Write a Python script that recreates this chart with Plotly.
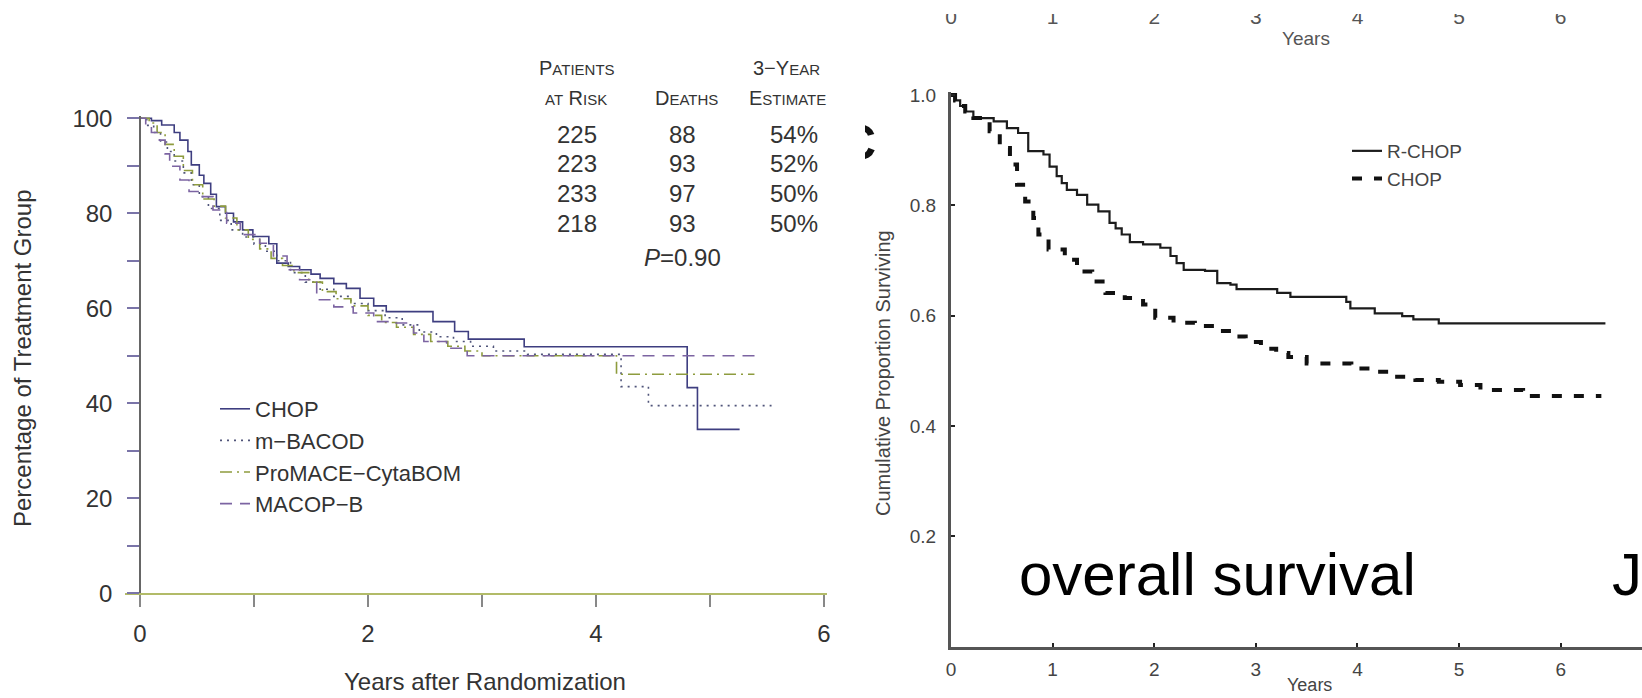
import plotly.graph_objects as go

W, H = 1642, 698
FONT = "Liberation Sans, Arial, Helvetica, sans-serif"


def px(x):
    return x / W


def py(y):
    return 1 - y / H


# ---------------- Left panel data (percent surviving by years) ----------------
chop_t = [0, 0.10, 0.19, 0.30, 0.35, 0.42, 0.45, 0.52, 0.56, 0.62, 0.67, 0.75, 0.82, 0.90, 0.99,
          1.13, 1.20, 1.30, 1.40, 1.50, 1.58, 1.70, 1.81, 1.93, 2.05, 2.16, 2.57, 2.76, 2.88,
          3.37, 4.80, 4.89, 5.26]
chop_s = [100, 99.5, 98.6, 97.0, 95.4, 93.0, 90.2, 88.0, 86.3, 84.0, 81.4, 80.0, 78.2, 76.5, 75.1,
          73.6, 69.5, 68.8, 68.1, 67.2, 66.3, 65.2, 64.2, 62.1, 60.5, 59.3, 57.2, 55.1, 53.5,
          51.9, 43.3, 34.5, 34.5]

mbacod_t = [0, 0.06, 0.12, 0.18, 0.24, 0.30, 0.38, 0.45, 0.52, 0.60, 0.70, 0.80, 0.90, 1.00,
            1.10, 1.20, 1.32, 1.45, 1.58, 1.70, 1.85, 2.00, 2.15, 2.30, 2.45, 2.60, 2.75, 2.90,
            3.10, 3.40, 4.22, 4.46, 5.54]
mbacod_s = [100, 98.5, 97.0, 95.0, 93.0, 91.0, 88.5, 86.0, 83.5, 81.0, 78.5, 76.5, 75.0, 73.5,
            72.0, 70.0, 67.5, 65.5, 64.0, 62.5, 61.0, 59.5, 58.0, 56.5, 55.0, 54.0, 53.0, 52.0,
            51.0, 50.3, 43.5, 39.5, 39.5]

promace_t = [0, 0.08, 0.15, 0.22, 0.30, 0.38, 0.46, 0.55, 0.65, 0.75, 0.85, 0.95, 1.05, 1.15,
             1.25, 1.35, 1.48, 1.60, 1.72, 1.85, 2.00, 2.12, 2.25, 2.40, 2.55, 2.70, 2.85, 3.00,
             4.18, 5.39]
promace_s = [100, 99.0, 97.0, 94.5, 92.0, 89.0, 86.0, 83.0, 81.5, 79.0, 76.5, 74.5, 72.5, 70.5,
             69.0, 67.5, 65.5, 63.5, 62.0, 60.5, 58.5, 57.0, 56.0, 54.5, 53.0, 52.0, 51.0, 50.0,
             46.1, 46.1]

macopb_t = [0, 0.05, 0.10, 0.17, 0.22, 0.26, 0.35, 0.43, 0.52, 0.64, 0.76, 0.88, 1.05, 1.17,
            1.29, 1.40, 1.55, 1.70, 1.87, 2.05, 2.22, 2.40, 2.49, 2.69, 2.87, 5.46]
macopb_s = [100, 98.4, 97.0, 95.4, 92.5, 89.9, 87.0, 84.6, 83.5, 80.7, 77.9, 75.5, 73.7, 71.0,
            68.1, 66.0, 61.8, 60.3, 59.0, 57.2, 56.9, 54.8, 53.0, 51.6, 50.0, 50.0]

left_names = ["CHOP", "m\u2212BACOD", "ProMACE\u2212CytaBOM", "MACOP\u2212B"]
at_risk = [225, 223, 233, 218]
deaths = [88, 93, 97, 93]
est_3yr = [54, 52, 50, 50]
p_value = "0.90"

left_xticks = [0, 1, 2, 3, 4, 5, 6]
left_xticktext = ["0", "", "2", "", "4", "", "6"]
left_yticks = [0, 10, 20, 30, 40, 50, 60, 70, 80, 90, 100]
left_yticktext = ["0", "", "20", "", "40", "", "60", "", "80", "", "100"]

# ---------------- Right panel data (proportion surviving) ----------------
rchop_t = [0, 0.04, 0.09, 0.14, 0.22, 0.42, 0.55, 0.66, 0.76, 0.91, 0.97, 1.04, 1.09, 1.14, 1.24,
           1.34, 1.45, 1.56, 1.62, 1.68, 1.76, 1.89, 2.06, 2.16, 2.22, 2.29, 2.50, 2.62, 2.75,
           2.81, 3.21, 3.34, 3.89, 3.93, 4.17, 4.44, 4.55, 4.80, 6.44]
rchop_s = [1.0, 0.99, 0.98, 0.97, 0.958, 0.952, 0.94, 0.931, 0.898, 0.892, 0.87, 0.853, 0.84,
           0.828, 0.819, 0.801, 0.789, 0.768, 0.758, 0.747, 0.733, 0.729, 0.723, 0.708, 0.695,
           0.683, 0.681, 0.659, 0.656, 0.648, 0.641, 0.634, 0.625, 0.613, 0.604, 0.599, 0.593,
           0.586, 0.586]

chopr_t = [0, 0.04, 0.09, 0.14, 0.22, 0.285, 0.38, 0.48, 0.58, 0.65, 0.73, 0.81, 0.86, 0.96,
           1.12, 1.24, 1.39, 1.52, 1.71, 1.89, 2.01, 2.19, 2.40, 2.62, 2.78, 2.90, 3.05, 3.20,
           3.32, 3.50, 3.94, 4.17, 4.35, 4.57, 4.80, 5.01, 5.21, 5.63, 6.40]
chopr_s = [1.0, 0.99, 0.98, 0.97, 0.958, 0.952, 0.934, 0.904, 0.874, 0.837, 0.807, 0.777, 0.747,
           0.720, 0.701, 0.680, 0.662, 0.641, 0.632, 0.620, 0.596, 0.587, 0.581, 0.572, 0.562,
           0.552, 0.540, 0.532, 0.525, 0.513, 0.504, 0.498, 0.489, 0.483, 0.480, 0.474, 0.465,
           0.454, 0.454]

right_names = ["R-CHOP", "CHOP"]
right_xticks = [0, 1, 2, 3, 4, 5, 6]
right_yticks = [0.2, 0.4, 0.6, 0.8, 1.0]
right_yticktext = ["0.2", "0.4", "0.6", "0.8", "1.0"]

fig = go.Figure()

left_series = [
    (chop_t, chop_s, "#3e3e80", None),
    (mbacod_t, mbacod_s, "#50557a", "2px,5px"),
    (promace_t, promace_s, "#8e9c3e", "12px,5px,2px,5px"),
    (macopb_t, macopb_s, "#7c64a2", "12px,8px"),
]
for (t, s, c, d), nm in zip(left_series, left_names):
    fig.add_trace(go.Scatter(
        x=t, y=s, mode="lines", name=nm, legend="legend",
        line=dict(shape="hv", color=c, width=1.6, dash=d),
        xaxis="x", yaxis="y", hoverinfo="skip"))

fig.add_trace(go.Scatter(
    x=rchop_t, y=rchop_s, mode="lines", name=right_names[0], legend="legend2",
    line=dict(shape="hv", color="#1c1c1c", width=2.2),
    xaxis="x2", yaxis="y2", hoverinfo="skip"))
fig.add_trace(go.Scatter(
    x=chopr_t, y=chopr_s, mode="lines", name=right_names[1], legend="legend2",
    line=dict(shape="hv", color="#111111", width=4, dash="10px,12px"),
    xaxis="x2", yaxis="y2", hoverinfo="skip"))

# invisible trace for the cropped top axis of the previous figure
fig.add_trace(go.Scatter(x=[], y=[], xaxis="x3", yaxis="y2", showlegend=False,
                         hoverinfo="skip"))
# cropped panel letter
fig.add_trace(go.Scatter(x=[-0.2], y=[0.5], mode="text", text=["<b>C</b>"],
                         textfont=dict(size=50, color="#111", family=FONT),
                         xaxis="x4", yaxis="y4", showlegend=False, hoverinfo="skip",
                         cliponaxis=True))

annotations = []


def ann(text, x, y, size, color="#333", xanchor="center", angle=0, yanchor="middle"):
    annotations.append(dict(text=text, x=px(x), y=py(y), xref="paper", yref="paper",
                            showarrow=False, xanchor=xanchor, yanchor=yanchor,
                            textangle=angle, font=dict(size=size, color=color, family=FONT)))


sc = "<span style='font-size:15px'>{}</span>"
ann("P" + sc.format("ATIENTS"), 577, 68, 20)
ann(sc.format("AT") + " R" + sc.format("ISK"), 576, 98, 20)
ann("D" + sc.format("EATHS"), 686, 98, 20)
ann("3\u2212Y" + sc.format("EAR"), 786, 68, 20)
ann("E" + sc.format("STIMATE"), 787, 98, 20)
row_y = [134, 163.5, 193, 223]
for r, n, d, e in zip(row_y, at_risk, deaths, est_3yr):
    ann(str(n), 577, r, 24)
    ann(str(d), 682, r, 24)
    ann(f"{e}%", 794, r, 24)
ann("<i>P</i>=" + p_value, 682, 258, 24)

ann("Percentage of Treatment Group", 22, 358, 24, angle=-90)
ann("Years after Randomization", 485, 681, 24)

ann("Cumulative Proportion Surviving", 883, 373, 20, color="#444", angle=-90)
ann("Years", 1309, 685, 18, color="#444")
ann("Years", 1306, 38, 19, color="#555")
ann("overall survival", 1017, 574, 60, color="#000", xanchor="left")
ann("J", 1610, 574, 60, color="#000", xanchor="left")

fig.update_layout(
    width=W, height=H,
    margin=dict(l=0, r=0, t=0, b=0, autoexpand=False),
    paper_bgcolor="white", plot_bgcolor="rgba(0,0,0,0)",
    font=dict(family=FONT, color="#333"),
    showlegend=True,
    xaxis=dict(domain=[px(125.2), px(827.4)], range=[-0.13, 6.03], anchor="y",
               showline=True, linecolor="#b2bb68", linewidth=2,
               ticks="outside", ticklen=12, tickwidth=1.5, tickcolor="#888",
               tickvals=left_xticks, ticktext=left_xticktext,
               tickfont=dict(size=24, color="#333"), ticklabelstandoff=6,
               showgrid=False, zeroline=False),
    yaxis=dict(domain=[1 - 593.3 / H, 1 - 115.9 / H], range=[0, 100.5],
               anchor="free", position=px(140),
               showline=True, linecolor="#666", linewidth=1.5,
               ticks="outside", ticklen=12, tickwidth=1.5, tickcolor="#7a74a8",
               tickvals=left_yticks, ticktext=left_yticktext,
               tickfont=dict(size=24, color="#333"), ticklabelstandoff=10,
               showgrid=False, zeroline=False),
    xaxis2=dict(domain=[px(951), 1.0], range=[0, 6.80], anchor="y2",
                showline=True, linecolor="#555", linewidth=3,
                ticks="inside", ticklen=4, tickwidth=2, tickcolor="#222",
                tickvals=right_xticks, tickfont=dict(size=19, color="#444"),
                ticklabelstandoff=4, showgrid=False, zeroline=False),
    yaxis2=dict(domain=[1 - 646.5 / H, 1 - 92.2 / H], range=[0, 1.005], anchor="x2",
                showline=True, linecolor="#555", linewidth=3,
                ticks="inside", ticklen=4, tickwidth=2, tickcolor="#222",
                tickvals=right_yticks, ticktext=right_yticktext,
                tickfont=dict(size=19, color="#444"), ticklabelstandoff=8,
                showgrid=False, zeroline=False),
    xaxis3=dict(overlaying="x2", range=[0, 6.80], anchor="free", position=py(2),
                side="bottom", showline=False, ticks="", tickvals=right_xticks,
                tickfont=dict(size=21, color="#555"), showgrid=False, zeroline=False),
    xaxis4=dict(domain=[px(865), px(900)], range=[0, 1], anchor="y4", visible=False),
    yaxis4=dict(domain=[py(175), py(120)], range=[0, 1], anchor="x4", visible=False),
    legend=dict(x=px(215), y=py(388), xanchor="left", yanchor="top",
                font=dict(size=22, color="#333", family=FONT),
                bgcolor="rgba(0,0,0,0)", borderwidth=0, tracegroupgap=0),
    legend2=dict(x=px(1347), y=py(132), xanchor="left", yanchor="top",
                 font=dict(size=19, color="#444", family=FONT),
                 bgcolor="rgba(0,0,0,0)", borderwidth=0, tracegroupgap=0),
    annotations=annotations,
    shapes=[dict(type="rect", xref="paper", yref="paper", x0=0.55, x1=1.0,
                 y0=py(14), y1=1.0, fillcolor="white", line=dict(width=0),
                 layer="above")],
)

fig.write_html("out.html")
